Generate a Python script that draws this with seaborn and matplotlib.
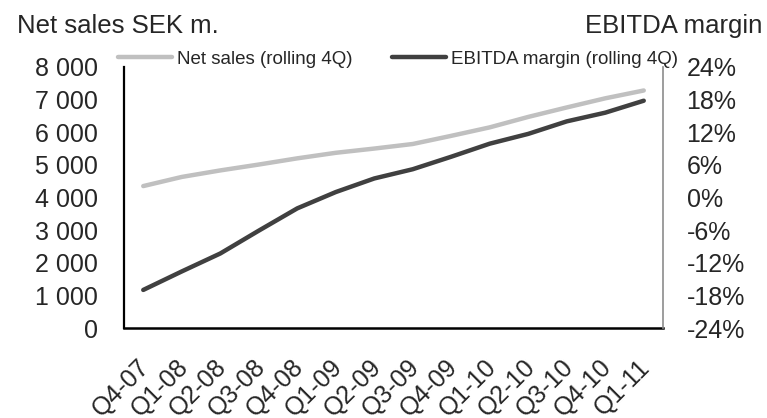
import matplotlib
matplotlib.use("Agg")
import matplotlib.pyplot as plt
from matplotlib.ticker import FuncFormatter, MultipleLocator
from matplotlib.transforms import ScaledTranslation
import seaborn as sns
import pandas as pd

# Rolling four-quarter figures
quarters = ["Q4-07", "Q1-08", "Q2-08", "Q3-08", "Q4-08", "Q1-09", "Q2-09",
            "Q3-09", "Q4-09", "Q1-10", "Q2-10", "Q3-10", "Q4-10", "Q1-11"]
net_sales = [4350, 4630, 4830, 5010, 5200, 5370, 5500,
             5640, 5890, 6150, 6470, 6760, 7040, 7280]
ebitda_margin = [-17.0, -13.6, -10.3, -6.1, -2.0, 1.0, 3.5,
                 5.2, 7.5, 9.9, 11.7, 14.0, 15.6, 17.8]

sns.set_style("white")
plt.rcParams["font.family"] = ["Liberation Sans", "DejaVu Sans"]

df = pd.DataFrame({"pos": range(len(quarters)), "quarter": quarters,
                   "net_sales": net_sales, "ebitda": ebitda_margin})

fig = plt.figure(figsize=(7.67, 4.18), dpi=100)
ax = fig.add_axes([124 / 767, 1 - 328 / 418, (663 - 124) / 767, (328 - 67) / 418])
ax2 = ax.twinx()

sales_color = "#C0C0C0"
ebitda_color = "#404040"

sns.lineplot(data=df, x="pos", y="net_sales", ax=ax, color=sales_color,
             linewidth=3.2, solid_capstyle="round", label="Net sales (rolling 4Q)",
             legend=False)
sns.lineplot(data=df, x="pos", y="ebitda", ax=ax2, color=ebitda_color,
             linewidth=3.2, solid_capstyle="round", label="EBITDA margin (rolling 4Q)",
             legend=False)

ax.set_xlim(-0.5, len(quarters) - 0.5)
ax.set_ylim(0, 8000)
ax2.set_ylim(-24, 24)
ax.yaxis.set_major_locator(MultipleLocator(1000))
ax2.yaxis.set_major_locator(MultipleLocator(6))
ax.yaxis.set_major_formatter(FuncFormatter(lambda v, p: f"{int(v):,}".replace(",", " ")))
ax2.yaxis.set_major_formatter(FuncFormatter(lambda v, p: f"{int(v)}%"))

ax.set_xticks(range(len(quarters)))
ax.set_xticklabels(quarters, rotation=45, ha="right", va="top",
                   rotation_mode="anchor")

label_size = 18
ax.tick_params(axis="y", length=0, pad=18.5, labelsize=label_size)
ax.tick_params(axis="x", length=0, pad=19.5, labelsize=label_size)
ax2.tick_params(axis="y", length=0, pad=17, labelsize=label_size)

# nudge the slanted quarter labels so their upper end sits at the tick
shift = ScaledTranslation(-4 / 72, 0, fig.dpi_scale_trans)
for lbl in ax.get_xticklabels():
    lbl.set_transform(lbl.get_transform() + shift)

ax.set_xlabel("")
ax.set_ylabel("")
ax2.set_ylabel("")

for a in (ax, ax2):
    a.spines["top"].set_visible(False)
ax.spines["left"].set_color("black")
ax.spines["left"].set_linewidth(1.6)
ax.spines["bottom"].set_color("black")
ax.spines["bottom"].set_linewidth(1.8)
ax.spines["right"].set_visible(False)
ax2.spines["left"].set_visible(False)
ax2.spines["bottom"].set_visible(False)
ax2.spines["right"].set_color("#8C8C8C")
ax2.spines["right"].set_linewidth(1.2)

fig.text(17 / 767, 1 - 33 / 418, "Net sales SEK m.", fontsize=18.5,
         ha="left", va="baseline")
fig.text(762 / 767, 1 - 33 / 418, "EBITDA margin", fontsize=18.5,
         ha="right", va="baseline")

handles = ax.get_lines() + ax2.get_lines()
labels = [h.get_label() for h in handles]
fig.legend(handles, labels, loc="center left",
           bbox_to_anchor=(118 / 767, 1 - 59 / 418), ncol=2, frameon=False,
           fontsize=13.5, handlelength=2.9, handletextpad=0.25,
           columnspacing=2.1, borderpad=0, borderaxespad=0)

fig.savefig("out.png", dpi=100)
